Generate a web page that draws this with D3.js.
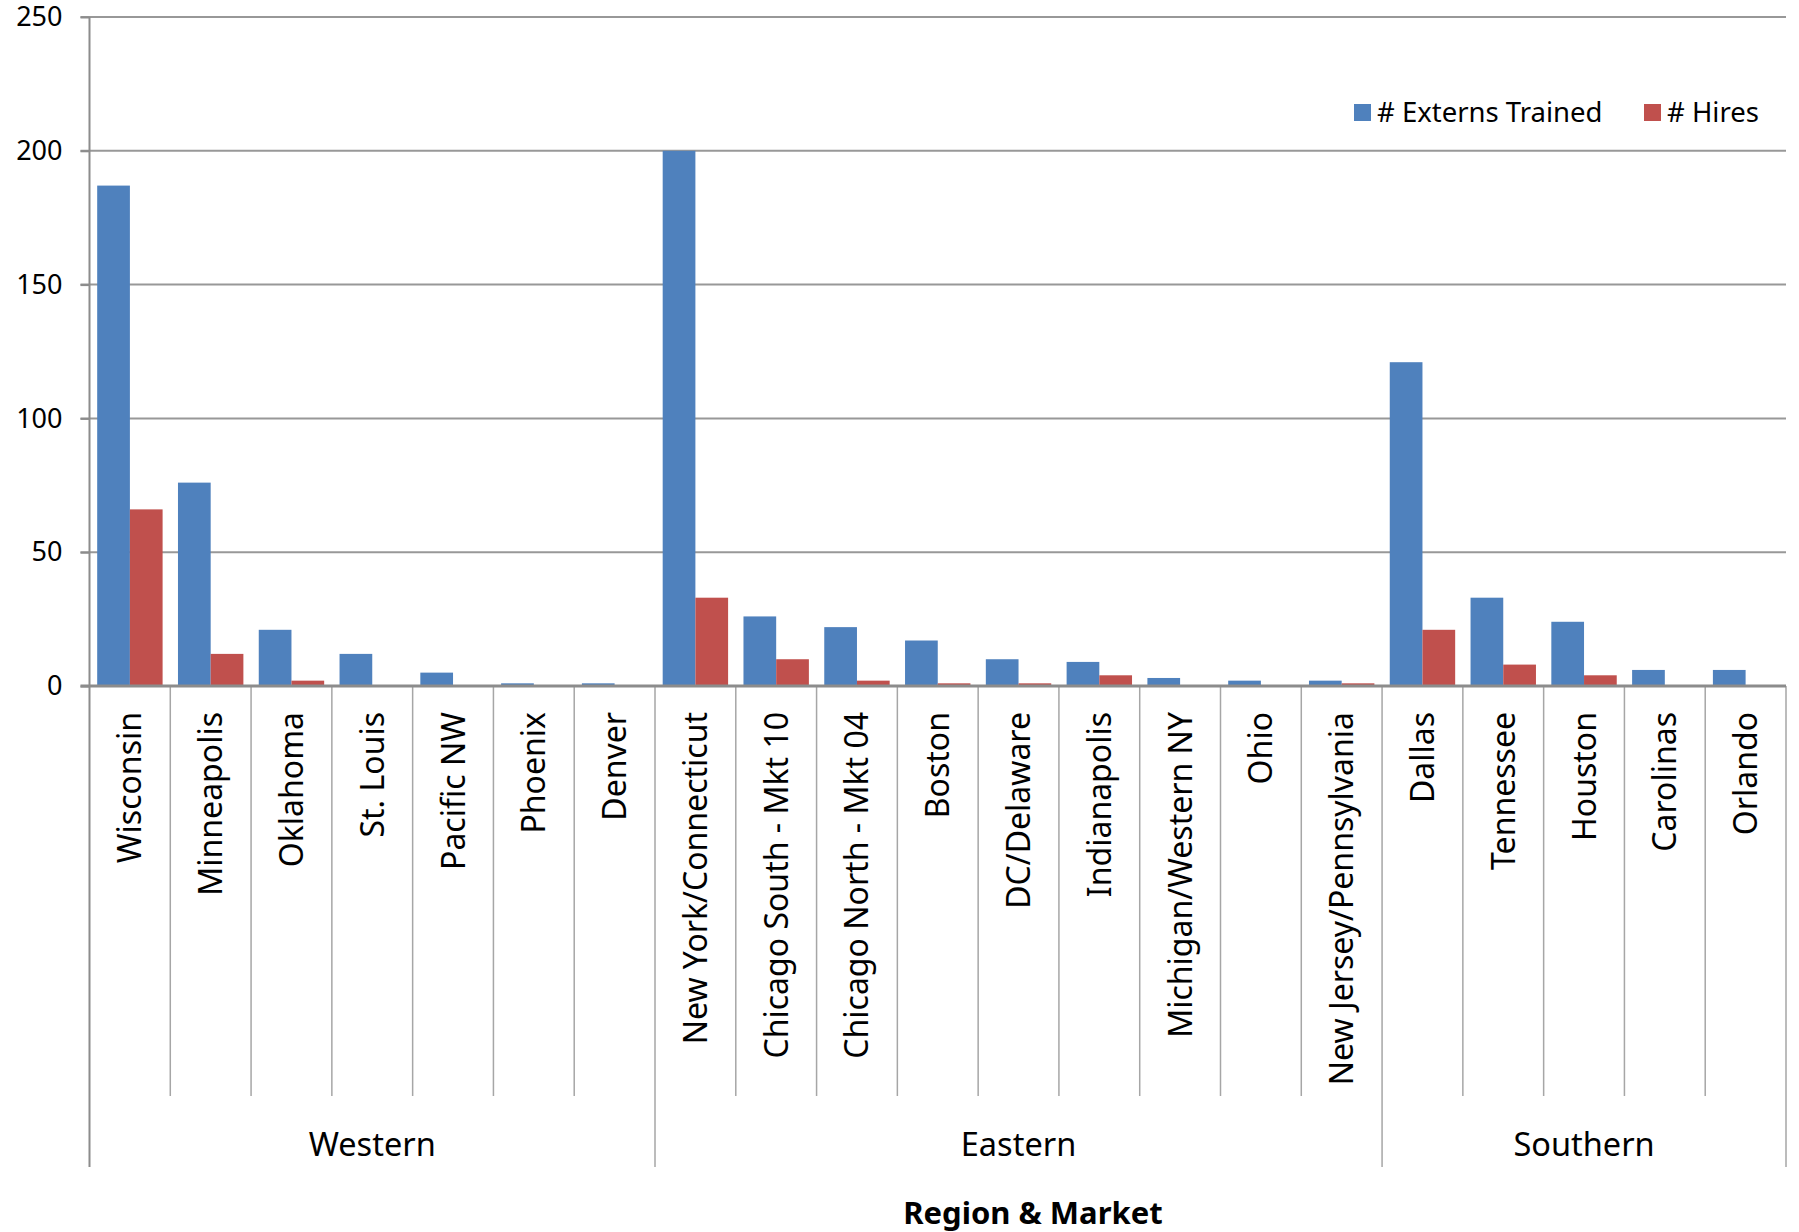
<!DOCTYPE html>
<html>
<head>
<meta charset="utf-8">
<script src="https://cdn.jsdelivr.net/npm/d3@7"></script>
<style>
  body { margin: 0; background: #fff; }
  text { font-family: "Noto Sans", "Open Sans", sans-serif; fill: #000; }
</style>
</head>
<body>
<div id="chart"></div>
<script>
// values
var regions = ["Western", "Eastern", "Southern"];
var markets = ["Wisconsin", "Minneapolis", "Oklahoma", "St. Louis", "Pacific NW", "Phoenix", "Denver",
    "New York/Connecticut", "Chicago South - Mkt 10", "Chicago North - Mkt 04", "Boston", "DC/Delaware",
    "Indianapolis", "Michigan/Western NY", "Ohio", "New Jersey/Pennsylvania",
    "Dallas", "Tennessee", "Houston", "Carolinas", "Orlando"];
var marketRegion = ["Western", "Western", "Western", "Western", "Western", "Western", "Western",
    "Eastern", "Eastern", "Eastern", "Eastern", "Eastern", "Eastern", "Eastern", "Eastern", "Eastern",
    "Southern", "Southern", "Southern", "Southern", "Southern"];
var externs = [187, 76, 21, 12, 5, 1, 1, 200, 26, 22, 17, 10, 9, 3, 2, 2, 121, 33, 24, 6, 6];
var hires = [66, 12, 2, 0, 0, 0, 0, 33, 10, 2, 1, 1, 4, 0, 0, 1, 21, 8, 4, 0, 0];
var seriesNames = ["# Externs Trained", "# Hires"];
var seriesColors = ["#4F81BD", "#C0504D"];
var yTicks = [0, 50, 100, 150, 200, 250];

var width = 1799, height = 1232;
var plotLeft = 89.5, plotRight = 1786, plotTop = 17, zeroY = 686;

var svg = d3.select("#chart").append("svg")
    .attr("width", width)
    .attr("height", height);

var x = d3.scaleBand().domain(markets).range([plotLeft, plotRight]);
var xs = d3.scaleBand().domain([0, 1]).range([0, x.bandwidth()]).paddingOuter(0.235);
var y = d3.scaleLinear().domain([0, 250]).range([zeroY, plotTop]);

// gridlines
svg.append("g").selectAll("line")
    .data(yTicks.slice(1))
    .enter().append("line")
    .attr("x1", plotLeft - 9).attr("x2", plotRight)
    .attr("y1", function(d){return y(d)}).attr("y2", function(d){return y(d)})
    .attr("stroke", "#989898").attr("stroke-width", 2);

// y axis
var yAxis = svg.append("g")
    .attr("transform", "translate(" + plotLeft + ",0)")
    .call(d3.axisLeft(y).tickValues(yTicks).tickSize(9).tickPadding(18));
yAxis.select(".domain").remove();
yAxis.selectAll(".tick line").attr("stroke", "#8c8c8c").attr("stroke-width", 2);
yAxis.selectAll(".tick text").style("font-size", "27px").attr("fill", "#000")
    .style("font-family", "'Noto Sans', sans-serif");

// bars
var rows = markets.map(function(m, i){ return {market: m, vals: [externs[i], hires[i]]}; });
var groups = svg.append("g").selectAll("g")
    .data(rows)
    .enter().append("g")
    .attr("transform", function(d){return "translate(" + x(d.market) + ",0)"});
groups.selectAll("rect")
    .data(function(d){return d.vals})
    .enter().append("rect")
    .attr("x", function(d, i){return xs(i)})
    .attr("width", xs.bandwidth())
    .attr("y", function(d){return y(d)})
    .attr("height", function(d){return zeroY - y(d)})
    .attr("fill", function(d, i){return seriesColors[i]});

// category boundaries
var regionEdges = [];
markets.forEach(function(m, i){
    if (i === 0 || marketRegion[i] !== marketRegion[i - 1]) regionEdges.push(i);
});
var edges = d3.range(markets.length + 1);
svg.append("g").selectAll("line")
    .data(edges)
    .enter().append("line")
    .attr("x1", function(i){return plotLeft + i * x.step()})
    .attr("x2", function(i){return plotLeft + i * x.step()})
    .attr("y1", zeroY)
    .attr("y2", function(i){return (regionEdges.indexOf(i) >= 0 || i === markets.length) ? 1167 : 1096})
    .attr("stroke", function(i){return (i === 0) ? "#8c8c8c" : "#a6a6a6"})
    .attr("stroke-width", function(i){return (i === 0) ? 2 : 1.5});

// left axis line and zero line
svg.append("line")
    .attr("x1", plotLeft).attr("x2", plotLeft).attr("y1", plotTop).attr("y2", zeroY)
    .attr("stroke", "#8c8c8c").attr("stroke-width", 2);
svg.append("line")
    .attr("x1", plotLeft - 9).attr("x2", plotRight).attr("y1", zeroY).attr("y2", zeroY)
    .attr("stroke", "#8c8c8c").attr("stroke-width", 3);

// market labels
svg.append("g").selectAll("text")
    .data(markets)
    .enter().append("text")
    .attr("transform", function(d){return "translate(" + (x(d) + x.bandwidth() / 2) + ",712) rotate(-90)"})
    .attr("text-anchor", "end")
    .attr("dy", "0.36em")
    .style("font-size", "32px")
    .text(function(d){return d});

// region labels
svg.append("g").selectAll("text")
    .data(regions)
    .enter().append("text")
    .attr("x", function(r){
        var idx = markets.filter(function(m, i){return marketRegion[i] === r});
        return (x(idx[0]) + x(idx[idx.length - 1]) + x.bandwidth()) / 2;
    })
    .attr("y", 1144)
    .attr("dy", "0.36em")
    .attr("text-anchor", "middle")
    .style("font-size", "32.5px")
    .text(function(d){return d});

// axis title
svg.append("text")
    .attr("x", 1033).attr("y", 1213).attr("dy", "0.36em")
    .attr("text-anchor", "middle")
    .style("font-size", "31px").style("font-weight", "bold")
    .text("Region & Market");

// legend
var legendX = [1354, 1644];
var legend = svg.append("g").selectAll("g")
    .data(seriesNames)
    .enter().append("g")
    .attr("transform", function(d, i){return "translate(" + legendX[i] + ",104)"});
legend.append("rect")
    .attr("width", 17).attr("height", 17)
    .attr("fill", function(d, i){return seriesColors[i]});
legend.append("text")
    .attr("x", 23).attr("y", 8.5).attr("dy", "0.36em")
    .style("font-size", "27.5px")
    .text(function(d){return d});
</script>
</body>
</html>
